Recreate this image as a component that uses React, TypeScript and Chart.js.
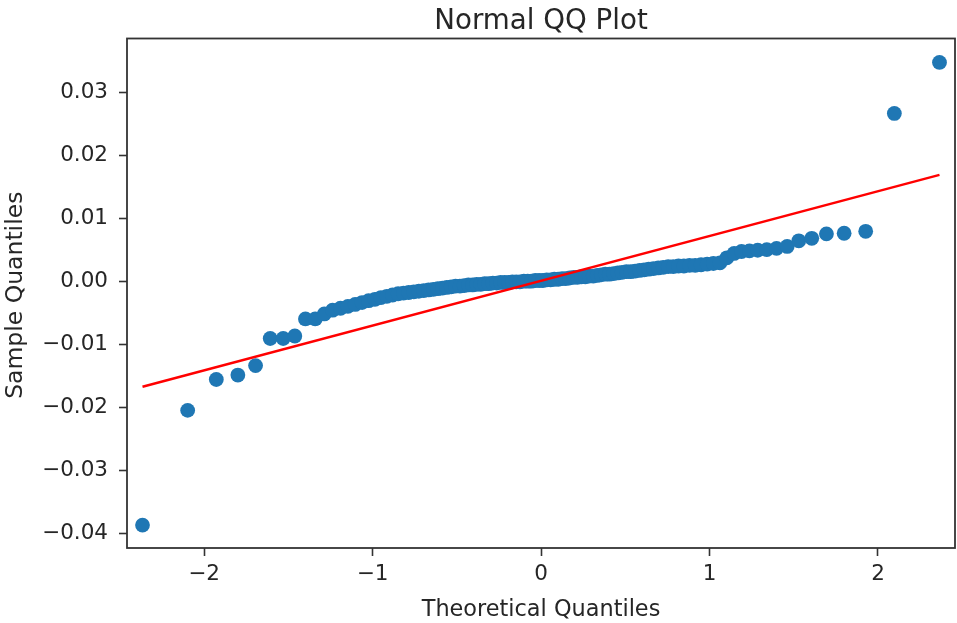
import React, { useEffect, useRef } from "react";
import { Chart, registerables } from "chart.js";

Chart.register(...registerables);

// Theoretical quantiles (x), 110 points
const theoretical = [
  -2.365, -2.097, -1.927, -1.799, -1.694, -1.607, -1.53, -1.461, -1.398, -1.34,
  -1.286, -1.237, -1.19, -1.146, -1.103, -1.062, -1.023, -0.986, -0.95, -0.915,
  -0.881, -0.848, -0.816, -0.785, -0.755, -0.725, -0.696, -0.667, -0.639, -0.612,
  -0.585, -0.559, -0.533, -0.507, -0.481, -0.456, -0.431, -0.406, -0.382, -0.358,
  -0.334, -0.31, -0.286, -0.263, -0.24, -0.216, -0.193, -0.17, -0.147, -0.125,
  -0.102, -0.079, -0.057, -0.034, -0.011,
  0.011, 0.034, 0.057, 0.079, 0.102, 0.125, 0.147, 0.17, 0.193, 0.216,
  0.24, 0.263, 0.286, 0.31, 0.334, 0.358, 0.382, 0.406, 0.431, 0.456,
  0.481, 0.507, 0.533, 0.559, 0.585, 0.612, 0.639, 0.667, 0.696, 0.725,
  0.755, 0.785, 0.816, 0.848, 0.881, 0.915, 0.95, 0.986, 1.023, 1.062,
  1.103, 1.146, 1.19, 1.237, 1.286, 1.34, 1.398, 1.461, 1.53, 1.607,
  1.694, 1.799, 1.927, 2.097, 2.365,
];

// Sample quantiles (y)
const sample = [
  -0.0387, -0.0205, -0.0156, -0.0149, -0.0134, -0.0091, -0.0091, -0.0087, -0.006, -0.006,
  -0.0052, -0.0046, -0.0043, -0.004, -0.0037, -0.0034, -0.0031, -0.0029, -0.0026, -0.0024,
  -0.0022, -0.002, -0.0019, -0.0018, -0.0017, -0.0016, -0.0015, -0.0014, -0.0013, -0.0012,
  -0.0011, -0.001, -0.0009, -0.0008, -0.0008, -0.0007, -0.0006, -0.0006, -0.0005, -0.0005,
  -0.0004, -0.0004, -0.0003, -0.0003, -0.0002, -0.0002, -0.0002, -0.0001, -0.0001, -0.0001,
  0.0, 0.0, 0.0, 0.0001, 0.0001,
  0.0001, 0.0002, 0.0002, 0.0003, 0.0003, 0.0004, 0.0004, 0.0005, 0.0006, 0.0006,
  0.0007, 0.0007, 0.0008, 0.0008, 0.0009, 0.001, 0.0011, 0.0011, 0.0012, 0.0013,
  0.0014, 0.0015, 0.0015, 0.0016, 0.0017, 0.0018, 0.0019, 0.002, 0.0021, 0.0022,
  0.0023, 0.0023, 0.0024, 0.0024, 0.0025, 0.0025, 0.0026, 0.0027, 0.0028, 0.0029,
  0.0037, 0.0044, 0.0047, 0.0048, 0.0049, 0.005, 0.0052, 0.0055, 0.0064, 0.0068,
  0.0075, 0.0076, 0.0079, 0.0266, 0.0347,
];

// Reference line endpoints
const lineX = [-2.365, 2.365];
const lineY = [-0.01675, 0.01685];

// Axes
const xTicks = [-2, -1, 0, 1, 2];
const yTicks = [-0.04, -0.03, -0.02, -0.01, 0.0, 0.01, 0.02, 0.03];
const xRange = [-2.457, 2.457];
const yRange = [-0.04233, 0.03849];

const titleText = "Normal QQ Plot";
const xLabel = "Theoretical Quantiles";
const yLabel = "Sample Quantiles";

const FONT = "'DejaVu Sans', 'Liberation Sans', sans-serif";
const TEXT = "#262626";
const SPINE = "#333333";

const fmt = (v: number, d: number) => {
  const s = Math.abs(v).toFixed(d);
  return (v < -1e-9 ? "\u2212" : "") + s;
};

const decor = {
  id: "decor",
  afterDatasetsDraw(chart: any) {
    const { ctx, chartArea: a } = chart;
    ctx.save();
    ctx.strokeStyle = SPINE;
    ctx.lineWidth = 1.8;
    ctx.strokeRect(a.left, a.top, a.right - a.left, a.bottom - a.top);
    ctx.restore();
  },
  afterDraw(chart: any) {
    const { ctx, chartArea: a } = chart;
    const cx = (a.left + a.right) / 2;
    const cy = (a.top + a.bottom) / 2;
    ctx.save();
    ctx.fillStyle = TEXT;
    ctx.textAlign = "center";
    ctx.textBaseline = "alphabetic";
    ctx.font = `27.7px ${FONT}`;
    ctx.fillText(titleText, cx, 28.5);
    ctx.font = `22.4px ${FONT}`;
    ctx.fillText(xLabel, cx, 616);
    ctx.font = `23.5px ${FONT}`;
    ctx.translate(22, cy + 2);
    ctx.rotate(-Math.PI / 2);
    ctx.fillText(yLabel, 0, 0);
    ctx.restore();
  },
};

export default function App() {
  const ref = useRef<HTMLCanvasElement | null>(null);

  useEffect(() => {
    if (!ref.current) return;
    const points = theoretical.map((x, i) => ({ x, y: sample[i] }));
    const line = lineX.map((x, i) => ({ x, y: lineY[i] }));
    const chart = new Chart(ref.current, {
      type: "scatter",
      data: {
        datasets: [
          {
            type: "line",
            data: line,
            borderColor: "#ff0000",
            borderWidth: 2.4,
            pointRadius: 0,
            fill: false,
            order: 0,
          } as any,
          {
            type: "scatter",
            data: points,
            backgroundColor: "#1f77b4",
            borderWidth: 0,
            pointRadius: 7.4,
            order: 1,
          } as any,
        ],
      },
      options: {
        animation: false,
        responsive: false,
        devicePixelRatio: 1,
        events: [],
        layout: { autoPadding: false, padding: { left: 0, right: 2, top: 38.5, bottom: 0 } },
        plugins: {
          legend: { display: false },
          title: { display: false },
          tooltip: { enabled: false },
        },
        scales: {
          x: {
            type: "linear",
            position: "bottom",
            min: xRange[0],
            max: xRange[1],
            afterBuildTicks: (s: any) => {
              s.ticks = xTicks.map((v) => ({ value: v }));
            },
            afterFit: (s: any) => {
              s.height = 75;
              s.paddingLeft = 0;
              s.paddingRight = 0;
              s.paddingTop = 0;
              s.paddingBottom = 0;
            },
            grid: {
              display: true,
              drawOnChartArea: false,
              drawTicks: true,
              tickLength: 8,
              tickWidth: 1.6,
              tickColor: SPINE,
            },
            border: { display: false },
            ticks: {
              autoSkip: false,
              maxRotation: 0,
              padding: 6,
              color: TEXT,
              font: { family: FONT, size: 21.5 },
              callback: (v: any) => fmt(Number(v), 0),
            },
          },
          y: {
            type: "linear",
            position: "left",
            min: yRange[0],
            max: yRange[1],
            afterBuildTicks: (s: any) => {
              s.ticks = yTicks.map((v) => ({ value: v }));
            },
            afterFit: (s: any) => {
              s.width = 127;
              s.paddingLeft = 0;
              s.paddingRight = 0;
              s.paddingTop = 0;
              s.paddingBottom = 0;
            },
            grid: {
              display: true,
              drawOnChartArea: false,
              drawTicks: true,
              tickLength: 8,
              tickWidth: 1.6,
              tickColor: SPINE,
            },
            border: { display: false },
            ticks: {
              autoSkip: false,
              padding: 11,
              color: TEXT,
              font: { family: FONT, size: 21.5 },
              callback: (v: any) => fmt(Number(v), 2),
            },
          },
        },
      },
      plugins: [decor],
    } as any);
    return () => chart.destroy();
  }, []);

  return (
    <div style={{ position: "fixed", left: 0, top: 0, width: 957, height: 623, background: "#fff" }}>
      <canvas ref={ref} width={957} height={623} style={{ display: "block", width: 957, height: 623 }} />
    </div>
  );
}
